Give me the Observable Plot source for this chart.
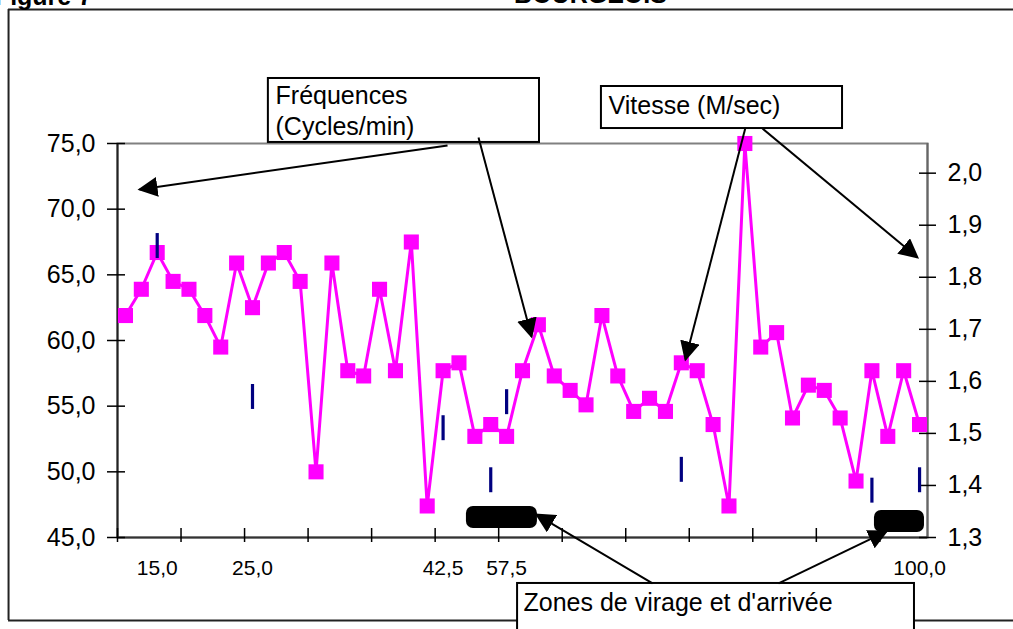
<!DOCTYPE html>
<html><head><meta charset="utf-8">
<script src="https://cdn.jsdelivr.net/npm/d3@7"></script>
<script src="https://cdn.jsdelivr.net/npm/@observablehq/plot@0.6"></script>
<style>
html,body{margin:0;padding:0;background:#fff;overflow:hidden;width:1013px;height:629px}
#chart{width:1013px;height:629px;overflow:hidden}
#chart svg{display:block;max-width:none !important;width:1013px !important;height:629px !important}
</style></head><body><div id="chart"></div>
<script>
// ---- Data ----
const frequence = [61.9, 63.9, 66.7, 64.5, 63.9, 61.9, 59.5, 65.9, 62.5, 65.9,
  66.7, 64.5, 50.0, 65.9, 57.7, 57.3, 63.9, 57.7, 67.5, 47.4,
  57.7, 58.3, 52.7, 53.6, 52.7, 57.7, 61.2, 57.3, 56.2, 55.1,
  61.9, 57.3, 54.6, 55.6, 54.6, 58.3, 57.7, 53.6, 47.4, 75.0,
  59.5, 60.6, 54.1, 56.6, 56.2, 54.1, 49.3, 57.7, 52.7, 57.7, 53.6];
const vitesseIdx = [2, 8, 20, 23, 24, 35, 47, 50];
const vitesse = [1.86, 1.57, 1.51, 1.41, 1.56, 1.43, 1.39, 1.41];
const xLabelIdx = [2, 8, 20, 24, 50];
const xLabels = ["15,0", "25,0", "42,5", "57,5", "100,0"];
const yLeftTicks = [45, 50, 55, 60, 65, 70, 75];
const yRightTicks = [1.3, 1.4, 1.5, 1.6, 1.7, 1.8, 1.9, 2.0];

// annotations (in chart units: x = category index, y = left-axis value)
const boxes = [
  {x1: 9.0, x2: 26.07, y1: 79.95, y2: 75.08},
  {x1: 29.97, x2: 45.15, y1: 79.34, y2: 76.14},
  {x1: 24.69, x2: 49.68, y1: 41.5, y2: 36.5}
];
const boxTexts = [
  {x: 9.45, y: 77.97, t: "Fréquences"},
  {x: 9.45, y: 75.61, t: "(Cycles/min)"},
  {x: 30.42, y: 77.28, t: "Vitesse (M/sec)"},
  {x: 25.06, y: 39.44, t: "Zones de virage et d'arrivée"}
];
const arrows = [
  {x1: 20.28, y1: 74.85, x2: 0.885, y2: 71.5},
  {x1: 22.23, y1: 75.46, x2: 25.57, y2: 60.3},
  {x1: 39.04, y1: 76.22, x2: 35.26, y2: 58.55},
  {x1: 40.11, y1: 76.14, x2: 49.87, y2: 66.32},
  {x1: 33.19, y1: 41.5, x2: 25.88, y2: 46.75},
  {x1: 41.12, y1: 41.5, x2: 47.92, y2: 45.46}
];
const zones = [
  {x1: 21.47, x2: 25.94, y1: 47.36, y2: 45.69},
  {x1: 47.16, x2: 50.31, y1: 47.06, y2: 45.38}
];
// outer chart-area border (left, top, bottom; right side is off-page)
const outerX = [-7.36, 62];
const outerY = [38.68, 85.2];
const titles = [
  {x: -5.16, y: 85.58, t: "Figure 7", style: "italic", anchor: "start"},
  {x: 29.28, y: 85.66, t: "BOURGEOIS", style: "normal", anchor: "middle"}
];

// ---- Scales helpers ----
const L0 = 45, L1 = 75, R0 = 1.3, R1 = 2.057;
const toLeft = r => L0 + (r - R0) * (L1 - L0) / (R1 - R0);
const fromLeft = l => R0 + (l - L0) * (R1 - R0) / (L1 - L0);
const fmt = v => v.toFixed(1).replace(".", ",");
const half = 0.95; // half-length of speed marker in left units

const freqData = frequence.map((v, i) => ({i, v}));
const vitData = vitesseIdx.map((i, k) => ({i, v: toLeft(vitesse[k])}));
const xTickPos = d3.range(-0.5, 50, 4);

const font = "'Liberation Sans', Arial, Helvetica, sans-serif";

const chart = Plot.plot({
  width: 1013, height: 629,
  marginLeft: 117, marginRight: 86, marginTop: 143, marginBottom: 92,
  style: {fontFamily: font, background: "white", color: "black"},
  x: {type: "linear", domain: [-0.5, 50.5]},
  y: {type: "linear", domain: [L0, L1]},
  marks: [
    Plot.ruleY(outerY, {y: d => d, x1: outerX[0], x2: outerX[1], stroke: "#222", strokeWidth: 2}),
    Plot.ruleX([outerX[0]], {x: d => d, y1: outerY[0], y2: outerY[1], stroke: "#222", strokeWidth: 2}),
    Plot.frame({stroke: "#808080", strokeWidth: 2}),
    Plot.ruleX([-0.5], {stroke: "#222", strokeWidth: 2}),
    Plot.ruleX([50.5], {stroke: "#666", strokeWidth: 2}),
    Plot.ruleY([45], {stroke: "#333", strokeWidth: 2}),
    Plot.axisY(yLeftTicks, {anchor: "left", tickFormat: fmt, tickSize: 18, dx: 8, tickPadding: 12, fontSize: 25, label: null, strokeWidth: 1.5}),
    Plot.axisY(yRightTicks.map(toLeft), {anchor: "right", tickFormat: d => fmt(fromLeft(d)), tickSize: 17, dx: -9, tickPadding: 12, fontSize: 25, label: null, strokeWidth: 1.5}),
    Plot.axisX(xTickPos, {anchor: "bottom", tickFormat: () => "", tickSize: 14, dy: -9, label: null, strokeWidth: 1.5}),
    Plot.axisX(xLabelIdx, {anchor: "bottom", tickFormat: d => xLabels[xLabelIdx.indexOf(d)], tickSize: 0, tickPadding: 23, fontSize: 21, label: null}),
    Plot.line(freqData, {x: "i", y: "v", stroke: "#FF00FF", strokeWidth: 3}),
    Plot.dot(freqData, {x: "i", y: "v", symbol: "square", r: 8.5, fill: "#FF00FF"}),
    Plot.ruleX(vitData, {x: "i", y1: d => d.v - half, y2: d => d.v + half, stroke: "#000080", strokeWidth: 3.2}),
    Plot.rect(zones, {x1: "x1", x2: "x2", y1: "y1", y2: "y2", fill: "black", rx: 7}),
    Plot.rect(boxes, {x1: "x1", x2: "x2", y1: "y1", y2: "y2", fill: "white", stroke: "black", strokeWidth: 2}),
    Plot.text(boxTexts, {x: "x", y: "y", text: "t", textAnchor: "start", lineAnchor: "bottom", fontSize: 25, fill: "black"}),
    Plot.link(arrows, {x1: "x1", y1: "y1", x2: "x2", y2: "y2", stroke: "black", strokeWidth: 2, className: "annarrow"}),
    Plot.text(titles, {x: "x", y: "y", text: "t", textAnchor: d => d.anchor, lineAnchor: "bottom", fontSize: 25, fontWeight: "bold", fontStyle: d => d.style, fill: "black"})
  ]
});

// filled arrowheads
const svg = d3.select(chart);
const defs = svg.insert("defs", ":first-child");
defs.append("marker").attr("id", "ahead").attr("viewBox", "0 0 10 10")
  .attr("refX", 9).attr("refY", 5).attr("markerWidth", 10).attr("markerHeight", 10)
  .attr("orient", "auto").attr("markerUnits", "strokeWidth")
  .append("path").attr("d", "M0,0L10,5L0,10Z").attr("fill", "black");
svg.selectAll(".annarrow path").attr("marker-end", "url(#ahead)");

document.getElementById("chart").appendChild(chart);
</script></body></html>
